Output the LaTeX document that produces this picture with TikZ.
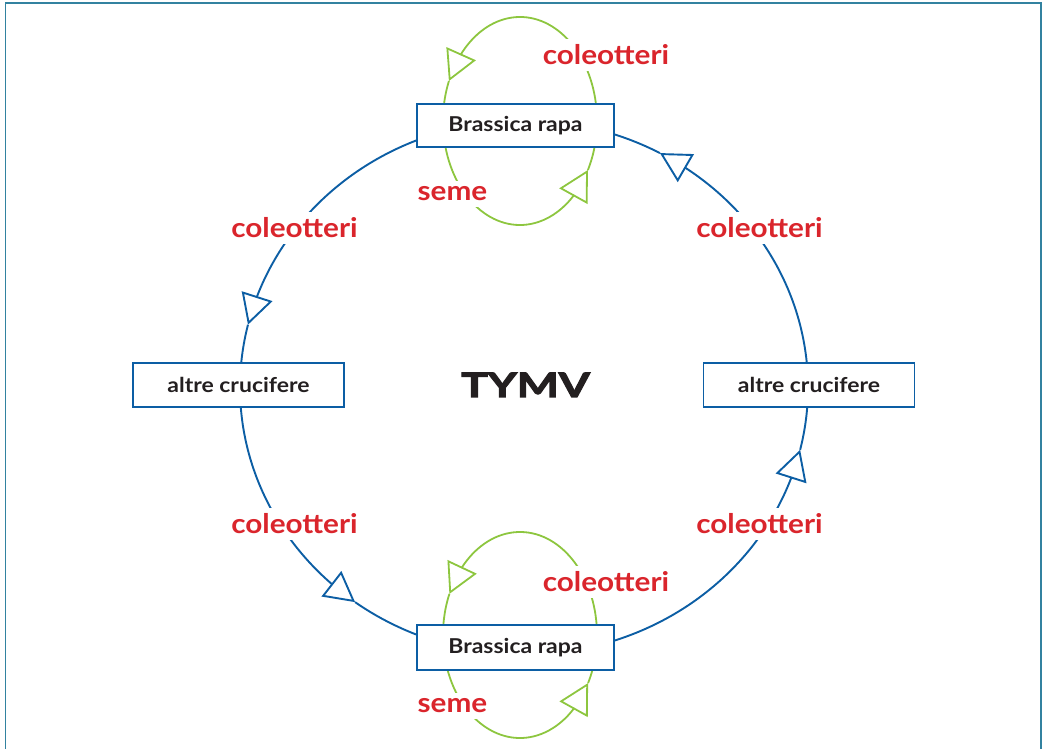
\documentclass[tikz,border=0pt]{standalone}
\usepackage{fontspec}
\setmainfont{Lato}
\usetikzlibrary{arrows.meta,bending}
\definecolor{bl}{RGB}{12,94,164}
\definecolor{gr}{RGB}{141,198,63}
\definecolor{rd}{RGB}{218,37,44}
\definecolor{dk}{RGB}{35,31,32}
\definecolor{fr}{RGB}{50,130,160}
\begin{document}
\begin{tikzpicture}[x=1pt,y=1pt,
  bline/.style={draw=bl, line width=1.9pt},
  gline/.style={draw=gr, line width=1.8pt},
  tri/.style={-{Triangle[open,length=30pt,width=32pt,flex]}},
  box/.style={draw=bl, line width=1.9pt, fill=white, text=dk, inner sep=0pt,
    font=\bfseries\fontsize{20.5}{24}\selectfont\addfontfeature{FakeStretch=1.12}},
  lab/.style={text=rd, fill=white, inner sep=6pt, anchor=base,
    font=\bfseries\fontsize{27}{30}\selectfont\addfontfeature{FakeStretch=1.1}},
]
\useasboundingbox (0,0) rectangle (1042,749);
\draw[fr, line width=1.6pt] (5.5,-5) -- (5.5,746) -- (1041,746) -- (1041,-5);

\coordinate (C) at (524,361.5);
\coordinate (G1) at (520,628);
\coordinate (G2) at (520,114);

% blue cycle
\draw[bline,tri] (C) ++(112.1:284 and 267) arc[start angle=112.1,end angle=166.4,x radius=284,y radius=267];
\draw[bline] (C) ++(166.4:284 and 267) arc[start angle=166.4,end angle=176,x radius=284,y radius=267];
\draw[bline,tri] (C) ++(4:284 and 267) arc[start angle=4,end angle=61.4,x radius=284,y radius=267];
\draw[bline] (C) ++(61.4:284 and 267) arc[start angle=61.4,end angle=72,x radius=284,y radius=267];
\draw[bline,tri] (C) ++(288:284 and 267) arc[start angle=288,end angle=346.5,x radius=284,y radius=267];
\draw[bline] (C) ++(346.5:284 and 267) arc[start angle=346.5,end angle=357,x radius=284,y radius=267];
\draw[bline,tri] (C) ++(183:284 and 267) arc[start angle=183,end angle=233.5,x radius=284,y radius=267];
\draw[bline] (C) ++(233.5:284 and 267) arc[start angle=233.5,end angle=248.5,x radius=284,y radius=267];

% green loops top
\draw[gline,tri] (G1) ++(9.4:77 and 104) arc[start angle=9.4,end angle=157.4,x radius=77,y radius=104];
\draw[gline] (G1) ++(157.4:77 and 104) arc[start angle=157.4,end angle=171,x radius=77,y radius=104];
\draw[gline,tri] (G1) ++(194:77 and 104) arc[start angle=194,end angle=331.9,x radius=77,y radius=104];
\draw[gline] (G1) ++(331.9:77 and 104) arc[start angle=331.9,end angle=346,x radius=77,y radius=104];
% green loops bottom
\draw[gline,tri] (G2) ++(5:77 and 103) arc[start angle=5,end angle=156.5,x radius=77,y radius=103];
\draw[gline] (G2) ++(156.5:77 and 103) arc[start angle=156.5,end angle=175,x radius=77,y radius=103];
\draw[gline,tri] (G2) ++(199:77 and 103) arc[start angle=199,end angle=332.2,x radius=77,y radius=103];
\draw[gline] (G2) ++(332.2:77 and 103) arc[start angle=332.2,end angle=341,x radius=77,y radius=103];

% boxes
\node[box, minimum width=197pt, minimum height=43pt] (top) at (515.5,623.5) {Brassica rapa};
\node[box, minimum width=197pt, minimum height=45pt] (bot) at (515.5,101.5) {Brassica rapa};
\node[box, minimum width=211pt, minimum height=44pt] (left) at (238.5,364) {altre crucifere};
\node[box, minimum width=211pt, minimum height=44pt] (right) at (809,364) {altre crucifere};

% labels
\node[lab] (l1) at (606,684) {coleotteri};
\node[lab] (l2) at (452.5,548) {seme};
\node[lab] (l3) at (294.5,511) {coleotteri};
\node[lab] (l4) at (759.5,511) {coleotteri};
\node[lab] (l5) at (294.5,215) {coleotteri};
\node[lab] (l6) at (759.5,215) {coleotteri};
\node[lab] (l7) at (606,157) {coleotteri};
\node[lab] (l8) at (452.5,36) {seme};

\node[text=dk, anchor=base, inner sep=0pt, font=\bfseries\fontsize{33.5}{38}\selectfont\addfontfeature{FakeBold=3.5,FakeStretch=1.33}] (tymv) at (525.5,352) {TYMV};
\end{tikzpicture}
\end{document}
